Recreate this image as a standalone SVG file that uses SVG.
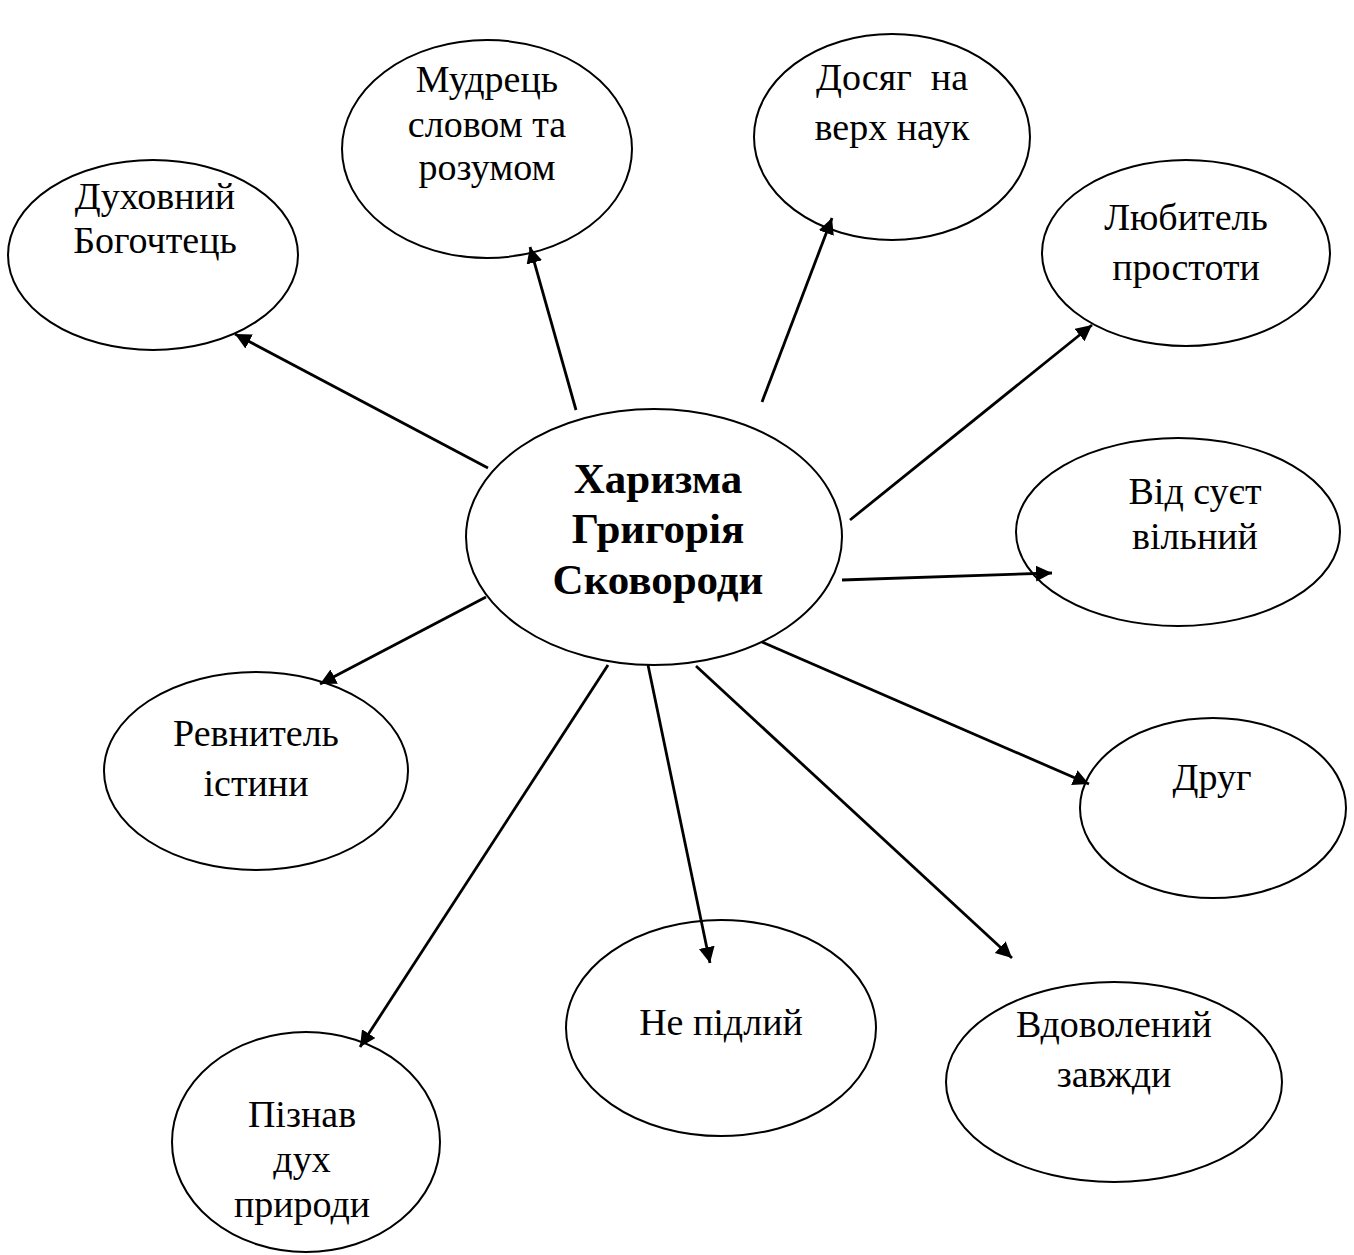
<svg xmlns="http://www.w3.org/2000/svg" width="1354" height="1255" viewBox="0 0 1354 1255">
<style>
.n{fill:#fff;stroke:#000;stroke-width:2}
.t{font-family:"Liberation Serif","Times New Roman",serif;font-size:38px;text-anchor:middle;fill:#000}
.b{font-family:"Liberation Serif","Times New Roman",serif;font-size:43px;font-weight:bold;text-anchor:middle;fill:#000}
.c{stroke:#000;stroke-width:2.8;fill:none;marker-end:url(#ah)}
</style>
<defs>
<marker id="ah" markerUnits="userSpaceOnUse" markerWidth="18" markerHeight="18" refX="16" refY="8" orient="auto">
<path d="M0,0 L16,8 L0,16 z" fill="#000"/>
</marker>
</defs>
<rect width="1354" height="1255" fill="#fff"/>
<g id="center">
<ellipse class="n" cx="654" cy="537" rx="188" ry="128"/>
<text class="b" x="658" y="493">Харизма</text>
<text class="b" x="658" y="543">Григорія</text>
<text class="b" x="658" y="594">Сковороди</text>
</g>
<g id="n-duhovnyi">
<ellipse class="n" cx="153" cy="255" rx="145" ry="95"/>
<text class="t" x="155" y="209">Духовний</text>
<text class="t" x="155" y="253">Богочтець</text>
</g>
<g id="n-mudrets">
<ellipse class="n" cx="487" cy="149" rx="145" ry="109"/>
<text class="t" x="487" y="92">Мудрець</text>
<text class="t" x="487" y="137">словом та</text>
<text class="t" x="487" y="180">розумом</text>
</g>
<g id="n-dosiah">
<ellipse class="n" cx="892" cy="137" rx="138" ry="103"/>
<text class="t" x="892" y="90" xml:space="preserve">Досяг  на</text>
<text class="t" x="892" y="140">верх наук</text>
</g>
<g id="n-liubytel">
<ellipse class="n" cx="1186" cy="253" rx="144" ry="93"/>
<text class="t" x="1186" y="230">Любитель</text>
<text class="t" x="1186" y="280">простоти</text>
</g>
<g id="n-vid-suiet">
<ellipse class="n" cx="1178" cy="532" rx="162" ry="94"/>
<text class="t" x="1195" y="504">Від суєт</text>
<text class="t" x="1195" y="549">вільний</text>
</g>
<g id="n-druh">
<ellipse class="n" cx="1213" cy="808" rx="133" ry="90"/>
<text class="t" x="1212" y="790">Друг</text>
</g>
<g id="n-vdovolenyi">
<ellipse class="n" cx="1114" cy="1082" rx="168" ry="100"/>
<text class="t" x="1114" y="1037">Вдоволений</text>
<text class="t" x="1114" y="1087">завжди</text>
</g>
<g id="n-ne-pidlyi">
<ellipse class="n" cx="721" cy="1028" rx="155" ry="108"/>
<text class="t" x="721" y="1035">Не підлий</text>
</g>
<g id="n-piznav">
<ellipse class="n" cx="306" cy="1142" rx="134" ry="110"/>
<text class="t" x="302" y="1127">Пізнав</text>
<text class="t" x="302" y="1172">дух</text>
<text class="t" x="302" y="1217">природи</text>
</g>
<g id="n-revnytel">
<ellipse class="n" cx="256" cy="771" rx="152" ry="99"/>
<text class="t" x="256" y="746">Ревнитель</text>
<text class="t" x="256" y="796">істини</text>
</g>
<g id="connectors">
<line class="c" x1="488" y1="468" x2="235" y2="334"/>
<line class="c" x1="576" y1="410" x2="530" y2="247"/>
<line class="c" x1="762" y1="402" x2="832" y2="218"/>
<line class="c" x1="850" y1="520" x2="1092" y2="325"/>
<line class="c" x1="842" y1="580" x2="1052" y2="573"/>
<line class="c" x1="762" y1="642" x2="1089" y2="784"/>
<line class="c" x1="696" y1="666" x2="1012" y2="958"/>
<line class="c" x1="648" y1="665" x2="710" y2="963"/>
<line class="c" x1="608" y1="665" x2="360" y2="1047"/>
<line class="c" x1="486" y1="597" x2="320" y2="684"/>
</g>
</svg>
